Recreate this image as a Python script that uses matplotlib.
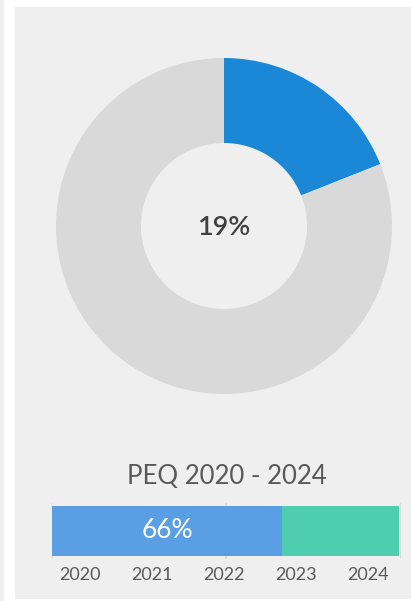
import matplotlib
matplotlib.use("Agg")
import matplotlib.pyplot as plt
from matplotlib.patches import Rectangle
import numpy as np

plt.rcParams['font.family'] = ['Lato', 'DejaVu Sans']

# ---- data ----
donut_labels = ["Done", "Remaining"]
donut_values = [19, 81]
donut_text = "19%"

bar_title = "PEQ 2020 - 2024"
bar_segments = [0.66, 0.335]
bar_text = "66%"
year_labels = ["2020", "2021", "2022", "2023", "2024"]

W, H = 411, 601
fig = plt.figure(figsize=(W / 100, H / 100), dpi=100)
fig.patch.set_facecolor("white")

def px(x0, y0, x1, y1):
    """pixel box (top-left origin) -> figure fraction rect"""
    return [x0 / W, 1 - y1 / H, (x1 - x0) / W, (y1 - y0) / H]

# background strips / panel
fig.patches.append(Rectangle((0, 0), 3.5 / W, 1, transform=fig.transFigure,
                             facecolor="#efefef", edgecolor="none", zorder=-5))
fig.patches.append(Rectangle((14.7 / W, 1 - 598.5 / H), 1, (598.5 - 7) / H,
                             transform=fig.transFigure,
                             facecolor="#efefef", edgecolor="none", zorder=-5))

# ---- donut ----
cx, cy, R = 224, 226, 168
ax = fig.add_axes(px(cx - R, cy - R, cx + R, cy + R))
ax.set_facecolor("none")
ax.pie(donut_values, colors=["#1a88d6", "#d9d9d9"], startangle=90,
       counterclock=False, radius=1,
       wedgeprops=dict(width=(168 - 83) / 168, linewidth=0))
ax.set_xlim(-1, 1)
ax.set_ylim(-1, 1)
ax.set_aspect("equal")
ax.axis("off")
ax.text(0, -0.01, donut_text, ha="center", va="center", fontsize=19.5,
        fontweight="semibold", color="#404040")

# ---- title ----
fig.text(226.7 / W, 1 - 476 / H, bar_title, ha="center", va="center",
         fontsize=18.5, color="#595959")

# ---- stacked bar ----
bx = fig.add_axes(px(51.7, 503, 401, 559))
bx.set_facecolor("none")
bx.set_xlim(0, 1)
bx.set_ylim(-0.5, 0.5)
for g in [0, 0.5, 1.0]:
    bx.axvline(g, color="#d9d9d9", lw=1.2, zorder=0)
left = 0
colors = ["#5a9fe3", "#4ecdb0"]
for v, c in zip(bar_segments, colors):
    bx.barh(0, v, left=left, height=49.3 / 56, color=c, zorder=2, linewidth=0)
    left += v
bx.text(bar_segments[0] / 2, 0, bar_text, ha="center", va="center",
        fontsize=19, color="white", zorder=3)
for s in bx.spines.values():
    s.set_visible(False)
bx.set_yticks([])
bx.set_xticks(0.081 + 0.206 * np.arange(len(year_labels)))
bx.set_xticklabels(year_labels, fontsize=13, color="#595959")
bx.tick_params(axis="x", length=0, pad=6)

fig.savefig("out.png", dpi=100, facecolor=fig.get_facecolor())
